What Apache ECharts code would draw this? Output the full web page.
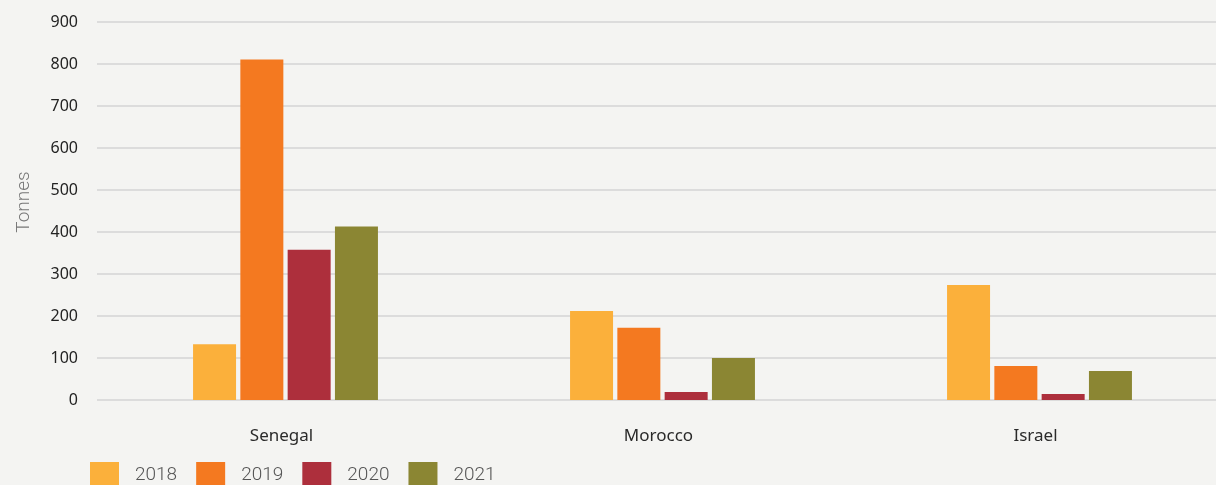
<!DOCTYPE html>
<html>
<head>
<meta charset="utf-8">
<script src="https://cdn.jsdelivr.net/npm/echarts@6/dist/echarts.min.js"></script>
<style>
html,body{margin:0;padding:0;background:#f4f4f2;overflow:hidden;}
#c{width:1228px;height:485px;}
</style>
</head>
<body>
<div id="c"></div>
<script>
const categories = ['Senegal', 'Morocco', 'Israel'];
const years = ['2018', '2019', '2020', '2021'];
const v2018 = [133, 212, 274];
const v2019 = [811, 172, 81];
const v2020 = [358, 19, 14];
const v2021 = [413, 100, 69];
const yTicks = [0, 100, 200, 300, 400, 500, 600, 700, 800, 900];
const colors = ['#FBB03B', '#F47920', '#AD2F3C', '#8B8633'];

const seriesData = [v2018, v2019, v2020, v2021];
const chart = echarts.init(document.getElementById('c'), null, {renderer: 'canvas'});
chart.setOption({
  backgroundColor: '#f4f4f2',
  animation: false,
  grid: {left: 97, right: 0, top: 22, bottom: 85, containLabel: false},
  legend: {
    data: years,
    left: 85, top: 457,
    itemWidth: 29, itemHeight: 26, itemGap: 19,
    icon: 'rect',
    textStyle: {fontFamily: 'Roboto', fontSize: 19, fontWeight: 300, color: '#555', padding: [0, 0, 0, 11]}
  },
  xAxis: {
    type: 'category',
    data: categories,
    axisLine: {show: false},
    axisTick: {show: false},
    axisLabel: {margin: 28, fontFamily: 'Noto Sans', fontSize: 17, color: '#2a2a2a', padding: [0, 8, 0, 0]}
  },
  yAxis: {
    type: 'value',
    min: yTicks[0], max: yTicks[yTicks.length - 1], interval: 100,
    name: 'Tonnes',
    nameLocation: 'middle',
    nameGap: 63,
    nameTextStyle: {fontFamily: 'Roboto', fontSize: 19, fontWeight: 300, color: '#777', padding: [0, 0, 0, 18]},
    axisLabel: {margin: 19, fontFamily: 'Noto Sans', fontSize: 16, color: '#222'},
    splitLine: {lineStyle: {color: '#dcdcdc', width: 2}},
    axisLine: {show: false},
    axisTick: {show: false}
  },
  series: years.map((y, i) => ({
    name: y,
    type: 'bar',
    data: seriesData[i],
    barWidth: 43,
    barGap: '10%',
    itemStyle: {color: colors[i]}
  }))
});
</script>
</body>
</html>
